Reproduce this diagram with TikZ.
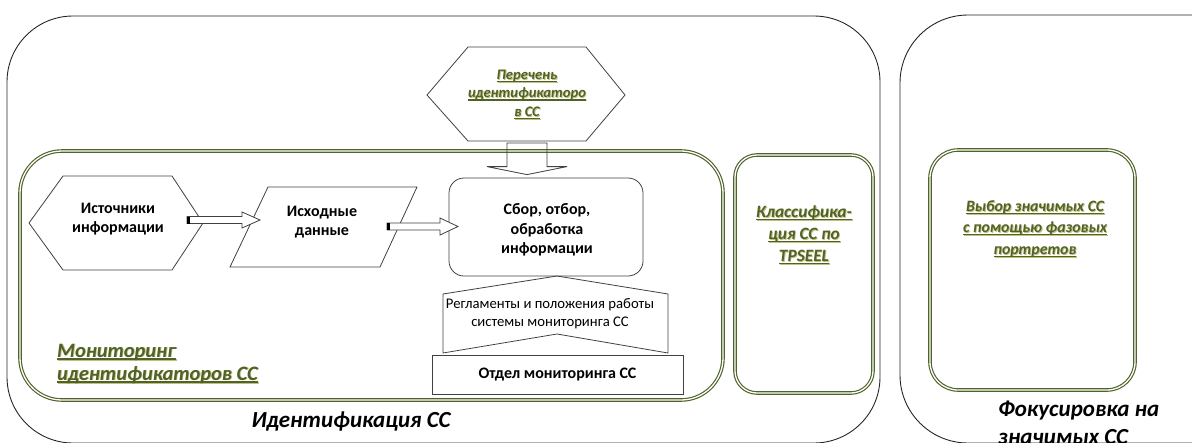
\documentclass[tikz,border=0pt]{standalone}
\usepackage{fontspec}
\setmainfont{Carlito}
\usetikzlibrary{calc}
\definecolor{gtext}{HTML}{4F6228}
\definecolor{gshadow}{HTML}{C2C07E}
\definecolor{gline}{HTML}{4F6228}
\newsavebox\ulb
\newcommand\ulbox[1]{\sbox\ulb{#1}\rlap{\usebox\ulb}\rule[-2.6pt]{\wd\ulb}{1.2pt}}
\newcommand\gline[1]{\leavevmode\rlap{\kern0.9pt\raisebox{-0.9pt}{\color{gshadow}\ulbox{#1}}}{\color{gtext}\ulbox{#1}}}
\newcommand\blockarrowH[5]{%
  \draw[barrow] ($(#1)+(0,-#3)$) -- ($(#2)+(-#5,-#3)$) -- ($(#2)+(-#5,-#4)$) -- (#2)
    -- ($(#2)+(-#5,#4)$) -- ($(#2)+(-#5,#3)$) -- ($(#1)+(0,#3)$) -- cycle;
  \fill[black] ($(#1)+(0,-#3)$) rectangle ($(#1)+(3,#3)$);
}
\begin{document}
\begin{tikzpicture}[x=1pt,y=-1pt,
  outerbox/.style={draw=black!85, line width=0.9pt, inner sep=0},
  greenbox/.style={draw=gline, double=white, line width=1.15pt, double distance=1.3pt, inner sep=0},
  shapeline/.style={draw=black!75, line width=0.8pt},
  blk/.style={font=\fontsize{16}{19.5}\selectfont\bfseries, align=center, inner sep=0},
  reg/.style={font=\fontsize{14.7}{18}\selectfont, align=center, inner sep=0},
  gtxt/.style={font=\bfseries\itshape, align=center, inner sep=0},
  bigt/.style={font=\fontsize{23}{28}\selectfont\bfseries\itshape, inner sep=0},
  barrow/.style={draw=black!75, line width=0.8pt, fill=white},
]
\useasboundingbox (0,0) rectangle (1192,442);
\clip (0,0) rectangle (1192,442);

% containers
\node[outerbox, rounded corners=66, minimum width=873pt, minimum height=427pt] (ident) at (443.5,229.5) {};
\node[outerbox, rounded corners=68, minimum width=370pt, minimum height=428pt] (focus) at (1085,229) {};
\node[greenbox, rounded corners=42, minimum width=703pt, minimum height=249pt] (mon) at (371.5,275.5) {};
\node[greenbox, rounded corners=22, minimum width=138pt, minimum height=238pt] (klass) at (804,274) {};
\node[greenbox, rounded corners=28, minimum width=205pt, minimum height=240pt] (vybor) at (1032.5,270) {};

% Перечень hexagon
\node[gtxt, font=\fontsize{14.6}{18.5}\selectfont\bfseries\itshape] (perech) at (527,95)
  {\gline{Перечень}\\\gline{идентификаторо}\\\gline{в СС}};
\draw[shapeline, shift={(perech.center)}] (-100,0) -- (-59,-48) -- (59,-48) -- (98,0) -- (59,46) -- (-59,46) -- cycle;

% Источники hexagon
\node[blk] (ist) at (118,219) {Источники\\информации};
\draw[shapeline, shift={(ist.center)}] (-89,4) -- (-55,-43) -- (54,-43) -- (85,4) -- (54,51) -- (-55,51) -- cycle;

% Исходные parallelogram
\node[blk] (isx) at (322,222) {Исходные\\данные};
\draw[shapeline, shift={(isx.center)}] (-54,-35) -- (95,-35) -- (58,45) -- (-92,45) -- cycle;

% Сбор
\node[shapeline, rounded corners=15, minimum width=194pt, minimum height=98pt] (sbor) at (546,227) {};
\node[blk] (sbort) at (547,230) {Сбор, отбор,\\обработка\\информации};

% Регламенты
\node[reg] (regl) at (550,314) {Регламенты и положения работы\\системы мониторинга СС};
\draw[shapeline, shift={(regl.center)}] (-107,-20) -- (7,-38) -- (118,-20) -- (118,39) -- (7,20) -- (-107,39) -- cycle;

% Отдел
\node[shapeline, blk, minimum width=251pt, minimum height=39pt] (otdel) at (557.5,374.5) {Отдел мониторинга СС};

% arrows
\coordinate (a1s) at (187,220);
\coordinate (a1e) at (260,220);
\coordinate (a2s) at (387,226.5);
\coordinate (a2e) at (458,226.5);
\blockarrowH{a1s}{a1e}{3.5}{8}{18}
\blockarrowH{a2s}{a2e}{3.5}{8.5}{18}
\coordinate (a3s) at ($(perech.center)+(0,48)$);
\coordinate (a3e) at ($(perech.center |- sbor.north)+(0,-3)$);
\draw[shapeline] ($(a3s)+(-20,0)$) -- ($(a3s)+(20,0)$) -- ($(a3e)+(20,-8)$) -- ($(a3e)+(40,-8)$) -- (a3e)
  -- ($(a3e)+(-40,-8)$) -- ($(a3e)+(-20,-8)$) -- cycle;

% green labels
\node[gtxt, font=\fontsize{20.4}{23}\selectfont\bfseries\itshape, align=left, anchor=west] (monl) at (57,364)
  {\gline{Мониторинг}\\\gline{идентификаторов СС}};
\node[gtxt, font=\fontsize{17.3}{22}\selectfont\bfseries\itshape] (klassl) at (804,235)
  {\gline{Классифика-}\\\gline{ция СС по}\\\gline{TPSEEL}};
\node[gtxt, font=\fontsize{15.8}{21.5}\selectfont\bfseries\itshape] (vyborl) at (1035,229)
  {\gline{Выбор значимых СС}\\\gline{с помощью фазовых}\\\gline{портретов}};

% big labels
\node[bigt] (identl) at (351,422) {Идентификация СС};
\node[bigt, align=left, anchor=west] (focusl) at (998,423) {Фокусировка на\\значимых СС};
\end{tikzpicture}
\end{document}
